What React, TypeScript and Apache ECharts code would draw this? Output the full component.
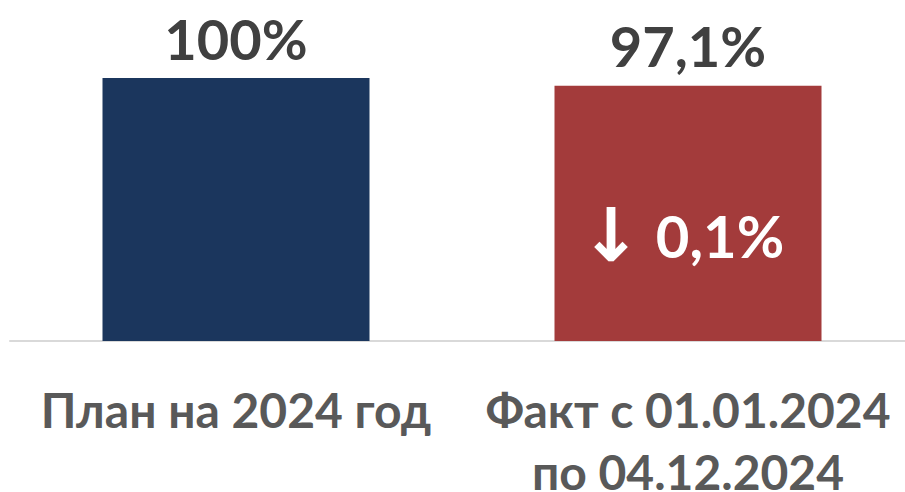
import React, { useEffect, useRef } from "react";
import * as echarts from "echarts";

const categories = ["План на 2024 год", "Факт с 01.01.2024\nпо 04.12.2024"];
const values = [100, 97.1];
const valueLabels = ["100%", "97,1%"];
const barColors = ["#1B365D", "#A33B3B"];
const changeArrow = "↓";
const changeText = "0,1%";

export default function App() {
  const ref = useRef<HTMLDivElement>(null);
  useEffect(() => {
    if (!ref.current) return;
    const chart = echarts.init(ref.current, null, { renderer: "svg" });
    chart.setOption({
      animation: false,
      grid: { left: 10, width: 904, top: 78, bottom: 151, containLabel: false, outerBoundsMode: "none" },
      xAxis: {
        type: "category",
        data: categories,
        axisLine: { lineStyle: { color: "#D9D9D9", width: 2 } },
        axisTick: { show: false },
        axisLabel: {
          interval: 0,
          color: "#595959",
          fontFamily: "Lato",
          fontWeight: "bold",
          fontSize: 48,
          lineHeight: 62,
          margin: 37,
        },
      },
      yAxis: { type: "value", min: 0, max: 100, show: false, splitLine: { show: false } },
      series: [
        {
          type: "bar",
          barWidth: 267,
          data: values.map((v, i) => ({ value: v, itemStyle: { color: barColors[i] } })),
          label: {
            show: true,
            position: "top",
            distance: 12,
            color: "#404040",
            fontFamily: "Lato",
            fontWeight: "bold",
            fontSize: 56,
            formatter: (p: any) => valueLabels[p.dataIndex],
          },
        },
        {
          type: "bar",
          barWidth: 267,
          barGap: "-100%",
          silent: true,
          itemStyle: { color: "transparent" },
          data: [null, values[1]],
          label: {
            show: true,
            position: "inside",
            offset: [-6, 22],
            color: "#FFFFFF",
            fontFamily: "Lato",
            fontWeight: "bold",
            fontSize: 58,
            formatter: () => `{a|${changeArrow}} ${changeText}`,
            rich: {
              a: { fontFamily: "DejaVu Sans", fontWeight: "bold", fontSize: 74, color: "#FFFFFF" },
            },
          },
        },
      ],
    });
    return () => chart.dispose();
  }, []);
  return <div ref={ref} style={{ width: 905, height: 492, position: "absolute", left: 0, top: 0 }} />;
}
